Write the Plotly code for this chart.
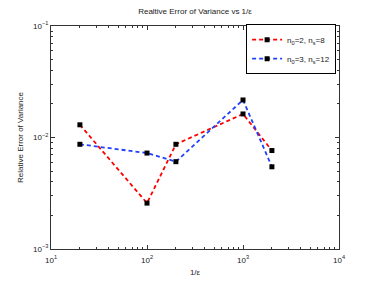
import plotly.graph_objects as go

inv_eps = [20, 100, 200, 1000, 2000]
err_n2 = [0.0130, 0.00258, 0.00869, 0.01626, 0.00764]
err_n3 = [0.00869, 0.00725, 0.00607, 0.0217, 0.00546]
names = ["n<sub>0</sub>=2, n<sub>s</sub>=8", "n<sub>0</sub>=3, n<sub>s</sub>=12"]
x_tickvals = [10, 100, 1000, 10000]
x_ticktext = ["10<sup>1</sup>", "10<sup>2</sup>", "10<sup>3</sup>", "10<sup>4</sup>"]
y_tickvals = [0.001, 0.01, 0.1]
y_ticktext = ["10<sup>−3</sup>", "10<sup>−2</sup>", "10<sup>−1</sup>"]

font = "Liberation Sans, Arial, sans-serif"
fig = go.Figure()
for ys, col, nm in [(err_n2, "#ff0000", names[0]), (err_n3, "#2040ff", names[1])]:
    fig.add_trace(go.Scatter(
        x=inv_eps, y=ys, mode="lines+markers", name=nm,
        line=dict(color=col, width=1.8, dash="4px,3px"),
        marker=dict(symbol="square", size=5, color="black"),
    ))

axis_common = dict(
    type="log", showgrid=False, zeroline=False, showline=True,
    linecolor="#333", linewidth=1, mirror="ticks", ticks="inside",
    ticklen=4, tickcolor="#333", tickfont=dict(size=8, color="#222", family=font),
)
fig.update_xaxes(range=[1, 4], tickvals=x_tickvals, ticktext=x_ticktext,
                 minor=dict(ticks="inside", ticklen=2, tickcolor="#333", dtick="D1"),
                 ticklabelstandoff=3,
                 title=dict(text="1/ε", font=dict(size=8, family=font, color="#222"), standoff=5),
                 **axis_common)
fig.update_yaxes(range=[-3, -1], tickvals=y_tickvals, ticktext=y_ticktext,
                 minor=dict(ticks="inside", ticklen=2, tickcolor="#333", dtick="D1"),
                 title=dict(text="Relative Error of Variance", font=dict(size=8, family=font, color="#222"), standoff=8),
                 **axis_common)
fig.update_layout(
    width=374, height=281,
    margin=dict(l=41, r=43, t=13, b=40),
    paper_bgcolor="white", plot_bgcolor="white",
    title=dict(text="Realtive Error of Variance vs 1/ε", x=0.5, xanchor="center", y=0.99, yanchor="middle",
               font=dict(size=8, family=font, color="#222")),
    legend=dict(x=0.99, y=1.008, xanchor="right", yanchor="top", bgcolor="white",
                bordercolor="black", borderwidth=1, font=dict(size=8, family=font, color="#222"),
                tracegroupgap=0, itemwidth=30),
    showlegend=True,
)
fig.write_html("out.html")
